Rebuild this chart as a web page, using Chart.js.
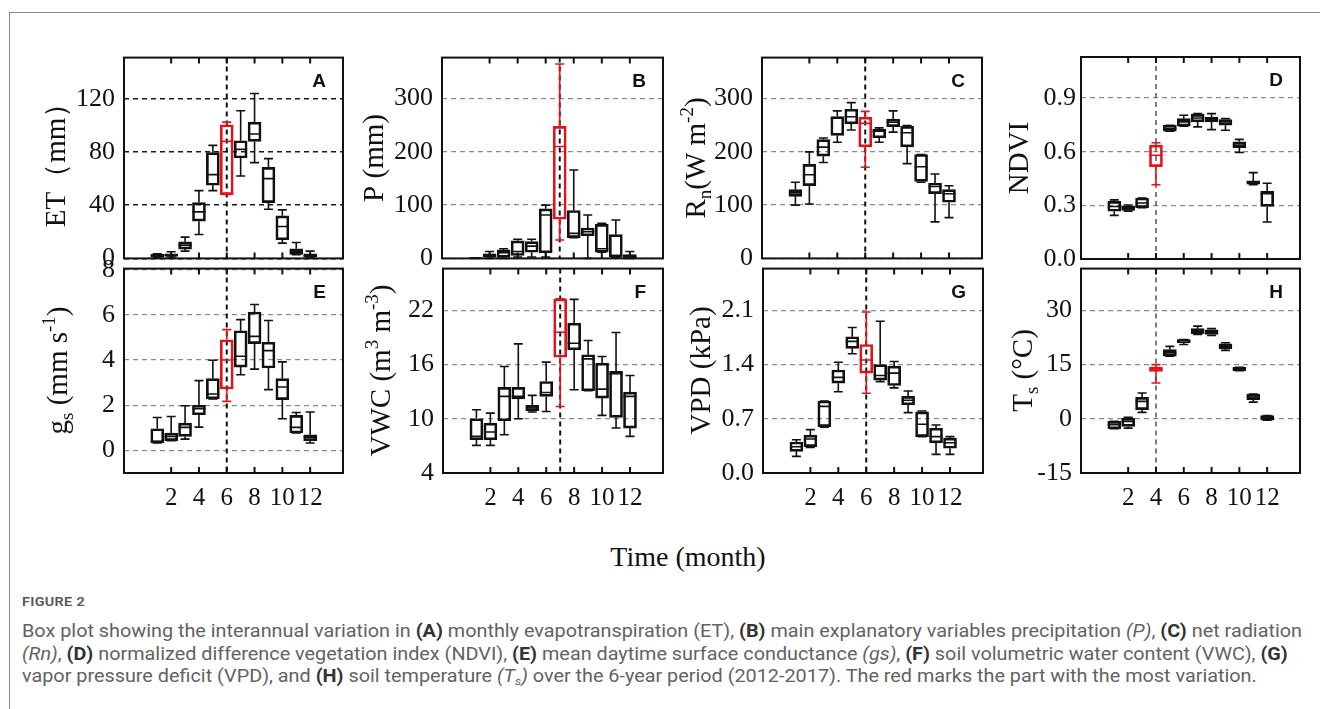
<!DOCTYPE html>
<html>
<head>
<meta charset="utf-8">
<script src="https://cdn.jsdelivr.net/npm/chart.js@4.4.1/dist/chart.umd.min.js"></script>
<style>
body { margin:0; background:#fff; width:1320px; height:709px; overflow:hidden; position:relative; font-family:'Liberation Serif', serif; }
#card { position:absolute; left:9px; top:12px; width:1340px; height:740px; border:1px solid #8a8a8a; }
canvas { position:absolute; }
#xtitle { position:absolute; left:560px; width:256px; top:543px; text-align:center; font:28px 'Liberation Serif', serif; line-height:28px; color:#111; }
#figlabel { position:absolute; left:22px; top:595px; font:600 13px 'Liberation Sans Narrow', 'Roboto', sans-serif; color:#555; letter-spacing:0.3px; line-height:14px; transform-origin:left top; }
.cap { position:absolute; left:22px; white-space:nowrap; font:18px 'Liberation Sans Narrow', 'Roboto', sans-serif; color:#626262; line-height:20px; transform-origin:left top; }
.cap b { color:#333; }
.cap sub { font-size:11px; vertical-align:-3px; line-height:0; }
</style>
</head>
<body>
<div id="card"></div>
<div id="xtitle">Time (month)</div>
<div id="figlabel">FIGURE 2</div>
<div class="cap" id="l1" style="top:621px">Box plot showing the interannual variation in <b>(A)</b> monthly evapotranspiration (ET), <b>(B)</b> main explanatory variables precipitation <i>(P)</i>, <b>(C)</b> net radiation</div>
<div class="cap" id="l2" style="top:644px"><i>(Rn)</i>, <b>(D)</b> normalized difference vegetation index (NDVI), <b>(E)</b> mean daytime surface conductance <i>(gs)</i>, <b>(F)</b> soil volumetric water content (VWC), <b>(G)</b></div>
<div class="cap" id="l3" style="top:666px">vapor pressure deficit (VPD), and <b>(H)</b> soil temperature <i>(T<sub>s</sub>)</i> over the 6-year period (2012-2017). The red marks the part with the most variation.</div>
<script>
var months = [1, 2, 3, 4, 5, 6, 7, 8, 9, 10, 11, 12];
var monthTicks = [2, 4, 6, 8, 10, 12];

// A - ET (mm)
var etTicks = [0, 40, 80, 120];
var etMin = [0.5, 1, 5.5, 18, 51, 48, 62, 72, 37, 11.5, 2.7, 0.5];
var etQ1  = [1, 1.5, 7, 28, 55, 48, 75.5, 88, 42, 14, 3, 1];
var etMed = [2, 2.5, 10, 35, 63, 88, 82, 93.5, 60, 24, 5.2, 2];
var etQ3  = [3, 3.5, 12.5, 42, 79.5, 100.5, 88.5, 102.5, 68.5, 32, 7.2, 3.5];
var etMax = [3.5, 5, 16, 51, 85, 102.5, 111, 124, 75, 36.5, 12, 5.5];

// B - P (mm)
var pTicks = [0, 100, 200, 300];
var pMin = [0, 0, 0, 2.5, 2.5, 2.5, 34.5, 39, 0, 11.5, 1, 0];
var pQ1  = [0, 2.5, 2, 5.5, 11.5, 10.5, 73.5, 39, 42.5, 11.5, 2.5, 1];
var pMed = [0.3, 5, 10.5, 13, 23, 81.5, 210, 47, 50, 18, 5.5, 3];
var pQ3  = [0.8, 8.5, 16, 33, 31.5, 93, 248, 90, 57, 64, 44.5, 7];
var pMax = [1, 13, 18, 36, 36, 100, 365, 166, 81.5, 66, 72, 13];

// C - Rn
var rnTicks = [0, 100, 200, 300];
var rnMin = [100, 102, 180, 218, 241, 171, 218, 237, 178, 143, 68.5, 76.5];
var rnQ1  = [116.5, 136.5, 192, 231, 252.5, 209.5, 226.5, 247.5, 209.5, 144.5, 121.5, 105.5];
var rnMed = [123, 157, 209, 263, 266, 253.5, 239, 255.5, 236, 172, 135, 121.5];
var rnQ3  = [129, 176.5, 223, 266.5, 280, 265, 243, 261.5, 248, 195, 141.5, 129];
var rnMax = [143, 200, 226, 277, 292.5, 276, 245, 277, 249.5, 195, 158.5, 136.5];

// D - NDVI
var ndTicks = [0, 0.3, 0.6, 0.9];
var ndMin = [0.244, 0.268, 0.287, 0.415, 0.715, 0.743, 0.739, 0.724, 0.72, 0.596, 0.415, 0.207];
var ndQ1  = [0.267, 0.272, 0.287, 0.517, 0.715, 0.743, 0.767, 0.767, 0.748, 0.622, 0.419, 0.294];
var ndMed = [0.294, 0.285, 0.313, 0.58, 0.73, 0.767, 0.789, 0.785, 0.767, 0.637, 0.428, 0.365];
var ndQ3  = [0.322, 0.298, 0.341, 0.637, 0.748, 0.785, 0.809, 0.794, 0.78, 0.656, 0.437, 0.378];
var ndMax = [0.331, 0.302, 0.341, 0.65, 0.748, 0.804, 0.813, 0.813, 0.785, 0.669, 0.483, 0.424];

// E - gs
var gsTicks = [0, 2, 4, 6, 8];
var gsMin = [0.33, 0.43, 0.5, 1.03, 2.28, 2.17, 3.35, 3.6, 2.69, 1.4, 0.77, 0.33];
var gsQ1  = [0.33, 0.43, 0.62, 1.58, 2.28, 2.72, 3.69, 4.73, 3.65, 2.25, 0.77, 0.43];
var gsMed = [0.4, 0.62, 1.02, 1.85, 2.5, 4.0, 4.17, 5.05, 4.42, 2.81, 1.02, 0.58];
var gsQ3  = [0.96, 0.77, 1.21, 2.0, 3.18, 4.9, 5.3, 6.13, 4.79, 3.18, 1.55, 0.69];
var gsMax = [1.46, 1.5, 1.98, 3.09, 3.99, 5.35, 5.79, 6.46, 5.75, 3.92, 1.68, 1.7];

// F - VWC
var vwTicks = [4, 10, 16, 22];
var vwMin = [7.05, 7.05, 8.23, 10.0, 10.74, 10.8, 11.36, 13.2, 13.09, 10.37, 8.97, 8.05];
var vwQ1  = [7.68, 7.68, 9.78, 12.2, 10.88, 12.47, 16.8, 17.62, 13.09, 12.28, 10.15, 8.97];
var vwMed = [8.05, 8.53, 12.47, 12.47, 11.18, 12.9, 19.57, 18.35, 16.62, 13.27, 14.97, 12.47];
var vwQ3  = [10.0, 9.52, 13.46, 13.46, 11.47, 14.12, 23.25, 20.56, 17.07, 16.15, 15.23, 12.94];
var vwMax = [11.0, 10.62, 15.78, 18.28, 12.58, 16.26, 23.25, 23.2, 18.65, 16.88, 19.53, 14.78];

// G - VPD
var vpTicks = [0, 0.7, 1.4, 2.1];
var vpMin = [0.215, 0.33, 0.59, 1.05, 1.54, 1.03, 1.18, 1.10, 0.78, 0.47, 0.24, 0.24];
var vpQ1  = [0.28, 0.34, 0.60, 1.16, 1.61, 1.29, 1.20, 1.13, 0.88, 0.47, 0.39, 0.32];
var vpMed = [0.34, 0.44, 0.86, 1.235, 1.70, 1.46, 1.26, 1.29, 0.94, 0.63, 0.47, 0.39];
var vpQ3  = [0.40, 0.49, 0.93, 1.33, 1.76, 1.66, 1.40, 1.38, 0.99, 0.79, 0.58, 0.45];
var vpMax = [0.43, 0.56, 0.93, 1.43, 1.88, 2.08, 1.96, 1.44, 1.06, 0.80, 0.62, 0.47];

// H - Ts
var tsTicks = [-15, 0, 15, 30];
var tsMin = [-2.77, -2.6, 1.75, 9.88, 17.27, 20.5, 23.3, 23.0, 18.9, 13.3, 4.6, -0.4];
var tsQ1  = [-2.77, -2.12, 2.5, 13.1, 17.27, 21.0, 23.5, 23.3, 19.3, 13.3, 5.3, -0.4];
var tsMed = [-1.66, -0.74, 4.8, 13.76, 18.2, 21.6, 24.2, 24.0, 20.0, 13.76, 6.0, 0.3];
var tsQ3  = [-0.74, 0.18, 5.9, 14.3, 19.1, 21.9, 24.9, 24.6, 20.7, 14.2, 6.8, 0.9];
var tsMax = [-0.74, 0.37, 7.1, 14.96, 20.0, 21.9, 25.6, 24.9, 21.0, 14.2, 6.8, 0.9];

var RED = '#e3121b';
var INK = '#111';

var panels = [
    {letter:'A', rect:[124, 57, 343, 259], ymin:0, ymax:151, ticks:etTicks, dec:0, red:6,
     stats:[etMin, etQ1, etMed, etQ3, etMax], title:[['ET（mm）']], titleX:55,
     grid:'#1a1a1a', gridW:1.6, vline:INK, vlineW:2, xlabels:false},
    {letter:'B', rect:[442, 57, 663, 259], ymin:0, ymax:377, ticks:pTicks, dec:0, red:7,
     stats:[pMin, pQ1, pMed, pQ3, pMax], title:[['P (mm)']], titleX:373,
     grid:'#8a8a8a', gridW:1.3, vline:INK, vlineW:2, xlabels:false},
    {letter:'C', rect:[762, 57, 982, 259], ymin:0, ymax:377, ticks:rnTicks, dec:0, red:6,
     stats:[rnMin, rnQ1, rnMed, rnQ3, rnMax], title:[['R'], ['n', 'sub'], ['(W m'], ['-2', 'sup'], [')']], titleX:695,
     grid:'#8a8a8a', gridW:1.3, vline:INK, vlineW:2, xlabels:false},
    {letter:'D', rect:[1081, 57, 1300, 259], ymin:0, ymax:1.13, ticks:ndTicks, dec:1, red:4,
     stats:[ndMin, ndQ1, ndMed, ndQ3, ndMax], title:[['NDVI']], titleX:1018,
     grid:'#8a8a8a', gridW:1.3, vline:'#555', vlineW:1.5, xlabels:false, pad:5},
    {letter:'E', rect:[124, 268, 343, 473], ymin:-1, ymax:8.05, ticks:gsTicks, dec:0, red:6,
     stats:[gsMin, gsQ1, gsMed, gsQ3, gsMax], title:[['g'], ['s', 'sub'], [' (mm s'], ['-1', 'sup'], [')']], titleX:57,
     grid:'#8a8a8a', gridW:1.3, vline:INK, vlineW:2, xlabels:true},
    {letter:'F', rect:[443, 268, 663, 473], ymin:4, ymax:26.6, ticks:vwTicks, dec:0, red:7,
     stats:[vwMin, vwQ1, vwMed, vwQ3, vwMax], title:[['VWC (m'], ['3', 'sup'], [' m'], ['-3', 'sup'], [')']], titleX:380,
     grid:'#8a8a8a', gridW:1.3, vline:INK, vlineW:2, xlabels:true},
    {letter:'G', rect:[763, 268, 983, 473], ymin:0, ymax:2.64, ticks:vpTicks, dec:1, red:6,
     stats:[vpMin, vpQ1, vpMed, vpQ3, vpMax], title:[['VPD (kPa)']], titleX:700,
     grid:'#8a8a8a', gridW:1.3, vline:INK, vlineW:2, xlabels:true},
    {letter:'H', rect:[1081, 268, 1300, 473], ymin:-15, ymax:41.5, ticks:tsTicks, dec:0, red:4,
     stats:[tsMin, tsQ1, tsMed, tsQ3, tsMax], title:[['T'], ['s', 'sub'], [' (°C)']], titleX:1022,
     grid:'#8a8a8a', gridW:1.3, vline:'#555', vlineW:1.5, xlabels:true}
];

// space round each plot area inside its canvas
var LEFT = 100, RIGHT = 9, VPAD = 24, XLAB = 42;

function drawTitle(ctx, segs, cx, cy) {
    var big = 29, small = 19;
    var w = 0;
    ctx.save();
    for (var i = 0; i < segs.length; i++) {
        ctx.font = (segs[i][1] ? small : big) + 'px "Liberation Serif", serif';
        w += ctx.measureText(segs[i][0]).width;
    }
    ctx.translate(cx, cy);
    ctx.rotate(-Math.PI / 2);
    ctx.fillStyle = INK;
    ctx.textBaseline = 'alphabetic';
    ctx.textAlign = 'left';
    var x = -w / 2, base = 0.33 * big;
    for (var j = 0; j < segs.length; j++) {
        var kind = segs[j][1];
        ctx.font = (kind ? small : big) + 'px "Liberation Serif", serif';
        var dy = kind === 'sub' ? 6 : (kind === 'sup' ? -12 : 0);
        ctx.fillText(segs[j][0], x, base + dy);
        x += ctx.measureText(segs[j][0]).width;
    }
    ctx.restore();
}

function makePlugin(p, cl, ct) {
    return {
        id: 'boxParts',
        beforeDatasetsDraw: function(chart) {
            var ctx = chart.ctx, a = chart.chartArea;
            var x = chart.scales.x.getPixelForValue(p.red);
            ctx.save();
            ctx.strokeStyle = p.vline;
            ctx.lineWidth = p.vlineW;
            ctx.setLineDash([5, 4]);
            ctx.beginPath();
            ctx.moveTo(x, a.top);
            ctx.lineTo(x, a.bottom);
            ctx.stroke();
            ctx.restore();
        },
        afterDatasetsDraw: function(chart) {
            var ctx = chart.ctx, xs = chart.scales.x, ys = chart.scales.y;
            var s = p.stats;
            ctx.save();
            ctx.lineWidth = 1.6;
            for (var i = 0; i < months.length; i++) {
                var x = xs.getPixelForValue(months[i]);
                ctx.strokeStyle = months[i] === p.red ? RED : INK;
                var yMin = ys.getPixelForValue(s[0][i]), yQ1 = ys.getPixelForValue(s[1][i]);
                var yMed = ys.getPixelForValue(s[2][i]), yQ3 = ys.getPixelForValue(s[3][i]);
                var yMax = ys.getPixelForValue(s[4][i]);
                ctx.beginPath();
                ctx.moveTo(x, yQ1); ctx.lineTo(x, yMin);
                ctx.moveTo(x, yQ3); ctx.lineTo(x, yMax);
                ctx.moveTo(x - 4.5, yMin); ctx.lineTo(x + 4.5, yMin);
                ctx.moveTo(x - 4.5, yMax); ctx.lineTo(x + 4.5, yMax);
                ctx.moveTo(x - 6.5, yMed); ctx.lineTo(x + 6.5, yMed);
                ctx.stroke();
            }
            ctx.restore();
        },
        afterDraw: function(chart) {
            var ctx = chart.ctx, a = chart.chartArea, xs = chart.scales.x;
            ctx.save();
            ctx.strokeStyle = INK;
            ctx.lineWidth = 2;
            ctx.strokeRect(a.left, a.top, a.right - a.left, a.bottom - a.top);
            ctx.beginPath();
            for (var i = 0; i < monthTicks.length; i++) {
                var x = xs.getPixelForValue(monthTicks[i]);
                ctx.moveTo(x, a.top); ctx.lineTo(x, a.top + 6);
                ctx.moveTo(x, a.bottom); ctx.lineTo(x, a.bottom - 6);
            }
            ctx.stroke();
            ctx.fillStyle = INK;
            ctx.font = 'bold 19px "Liberation Sans", Arial, sans-serif';
            ctx.textAlign = 'right';
            ctx.textBaseline = 'middle';
            ctx.fillText(p.letter, a.right - 17, a.top + 24);
            ctx.restore();
            drawTitle(ctx, p.title, p.titleX - cl, (p.rect[1] + p.rect[3]) / 2 - ct);
        }
    };
}

function createPanel(p) {
    var L = p.rect[0], T = p.rect[1], R = p.rect[2], B = p.rect[3];
    var cl = L - LEFT, ct = T - VPAD;
    var cw = R - L + LEFT + RIGHT, ch = B - T + VPAD + (p.xlabels ? XLAB : VPAD);
    var canvas = document.createElement('canvas');
    canvas.width = cw; canvas.height = ch;
    canvas.style.left = cl + 'px'; canvas.style.top = ct + 'px';
    canvas.style.width = cw + 'px'; canvas.style.height = ch + 'px';
    document.body.appendChild(canvas);

    var boxData = months.map(function(m, i) { return {x: m, y: [p.stats[1][i], p.stats[3][i]]}; });
    var colors = months.map(function(m) { return m === p.red ? RED : INK; });

    return new Chart(canvas, {
        type: 'bar',
        data: {
            datasets: [{
                data: boxData,
                backgroundColor: 'rgba(0,0,0,0)',
                borderColor: colors,
                borderWidth: 2,
                borderSkipped: false,
                barThickness: 13
            }]
        },
        options: {
            responsive: false,
            animation: false,
            devicePixelRatio: 1,
            layout: { padding: { left: 0, top: VPAD, right: RIGHT, bottom: p.xlabels ? 0 : VPAD } },
            plugins: { legend: { display: false }, tooltip: { enabled: false } },
            scales: {
                x: {
                    type: 'linear', min: -0.08, max: 13.05,
                    display: p.xlabels,
                    grid: { display: false },
                    border: { display: false },
                    afterBuildTicks: function(scale) { scale.ticks = monthTicks.map(function(v) { return {value: v}; }); },
                    afterFit: function(scale) { scale.height = p.xlabels ? XLAB : 0; },
                    ticks: { autoSkip: false, maxRotation: 0, padding: 2, color: INK,
                             font: { family: '"Liberation Serif", serif', size: 25 } }
                },
                y: {
                    min: p.ymin, max: p.ymax,
                    afterBuildTicks: function(scale) { scale.ticks = p.ticks.map(function(v) { return {value: v}; }); },
                    afterFit: function(scale) { scale.width = LEFT; },
                    grid: { color: p.grid, lineWidth: p.gridW, drawTicks: false },
                    border: { display: false, dash: [5, 4] },
                    ticks: {
                        autoSkip: false, padding: p.pad || 9, color: INK,
                        font: { family: '"Liberation Serif", serif', size: 26 },
                        callback: function(v) { return p.dec ? v.toFixed(p.dec) : String(v); }
                    }
                }
            }
        },
        plugins: [makePlugin(p, cl, ct)]
    });
}

for (var i = 0; i < panels.length; i++) {
    createPanel(panels[i]);
}

// squeeze caption lines to the width they take in the figure
var l1 = document.getElementById('l1');
var k = 1280 / l1.getBoundingClientRect().width;
['l1', 'l2', 'l3'].forEach(function(id) {
    document.getElementById(id).style.transform = 'scaleX(' + k + ')';
});
var fl = document.getElementById('figlabel');
fl.style.transform = 'scaleX(' + (63 / fl.getBoundingClientRect().width) + ')';
</script>
</body>
</html>
